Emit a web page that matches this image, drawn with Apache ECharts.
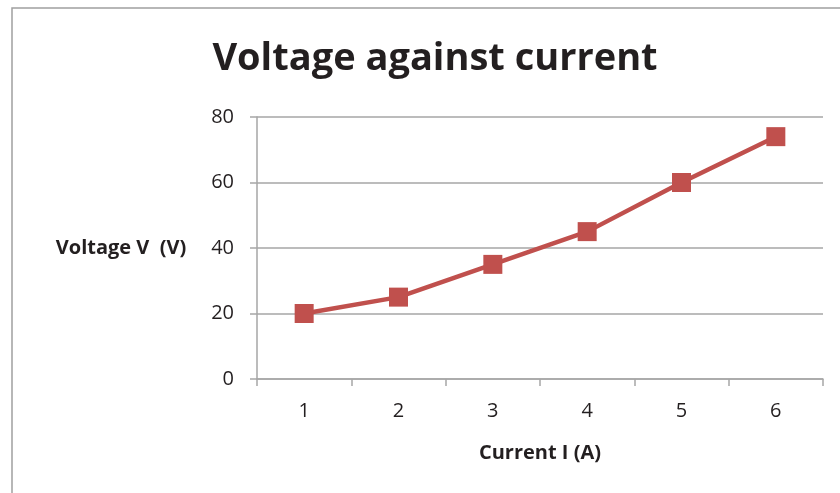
<!DOCTYPE html>
<html>
<head>
<meta charset="utf-8">
<script src="https://cdn.jsdelivr.net/npm/echarts@6/dist/echarts.min.js"></script>
<style>
  html, body { margin: 0; padding: 0; background: #fff; }
  #chart { width: 840px; height: 493px; }
</style>
</head>
<body>
<div id="chart"></div>
<script>
// Current I (A) categories and measured voltage V (V)
const currents = ['1', '2', '3', '4', '5', '6'];
const voltages = [20, 25, 35, 45, 60, 74];
const yTicks = [0, 20, 40, 60, 80];

const FONT = '"Open Sans", "Liberation Sans", sans-serif';
const RED = '#C0504D';
const AXIS_GREY = '#A6A6A6';

const chart = echarts.init(document.getElementById('chart'), null, { renderer: 'canvas' });

chart.setOption({
  animation: false,
  backgroundColor: '#fff',
  textStyle: { fontFamily: FONT },
  title: {
    text: 'Voltage against current',
    left: 430,
    top: 35,
    textAlign: 'center',
    textStyle: { fontFamily: FONT, fontSize: 38, fontWeight: 'bold', color: '#231F20' }
  },
  graphic: [{
    type: 'rect',
    shape: { x: 12, y: 8, width: 840, height: 500 },
    style: { fill: 'none', stroke: '#A0A0A0', lineWidth: 1.5 },
    silent: true,
    z: -1
  }],
  grid: { left: 257, right: 17, top: 117, bottom: 114, containLabel: false },
  xAxis: {
    type: 'category',
    data: currents,
    boundaryGap: true,
    name: 'Current I (A)',
    nameLocation: 'middle',
    nameGap: 64,
    nameTextStyle: { fontFamily: FONT, fontSize: 20, fontWeight: 'bold', color: '#231F20' },
    axisLine: { lineStyle: { color: AXIS_GREY, width: 1.5 } },
    axisTick: { show: true, length: 7, lineStyle: { color: AXIS_GREY, width: 1.5 } },
    axisLabel: { fontFamily: FONT, fontSize: 20, color: '#231F20', margin: 22 },
    splitLine: { show: false }
  },
  yAxis: {
    type: 'value',
    min: yTicks[0],
    max: yTicks[yTicks.length - 1],
    interval: yTicks[1] - yTicks[0],
    name: 'Voltage V  (V)',
    nameLocation: 'middle',
    nameRotate: 0,
    nameGap: 136,
    nameTextStyle: { fontFamily: FONT, fontSize: 20, fontWeight: 'bold', color: '#231F20', align: 'center' },
    axisLine: { show: true, lineStyle: { color: AXIS_GREY, width: 1.5 } },
    axisTick: { show: true, inside: false, length: 7, lineStyle: { color: AXIS_GREY, width: 1.5 } },
    axisLabel: { fontFamily: FONT, fontSize: 20, color: '#231F20', margin: 23 },
    splitLine: { show: true, lineStyle: { color: AXIS_GREY, width: 1.5 } }
  },
  series: [{
    type: 'line',
    data: voltages,
    symbol: 'rect',
    symbolSize: 19,
    lineStyle: { color: RED, width: 4.5 },
    itemStyle: { color: RED },
    z: 5
  }]
});
</script>
</body>
</html>
